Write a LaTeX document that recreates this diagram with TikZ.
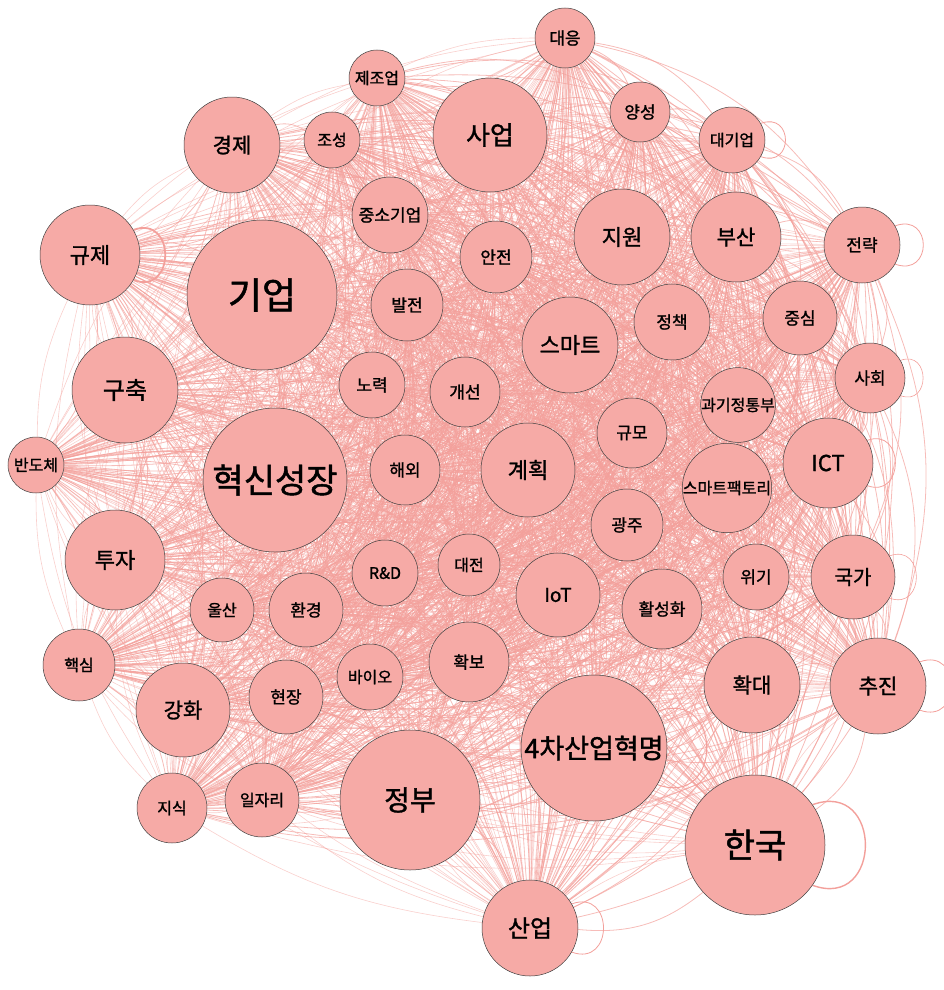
\documentclass[tikz,border=0pt]{standalone}
\usepackage{fontspec}
\newfontfamily\kr[FakeBold=1.3]{Noto Sans CJK KR}
\pgfdeclarelayer{bg}
\pgfsetlayers{bg,main}
\definecolor{nodefill}{RGB}{246,170,166}
\definecolor{edgecol}{RGB}{243,160,155}
\begin{document}
\begin{tikzpicture}[x=1pt,y=-1pt,
  nd/.style={circle,draw=black!75,line width=0.5pt,fill=nodefill,inner sep=0pt,text=black},
  edge/.style={draw=edgecol,line width=0.8pt,opacity=0.7},
  edgeb/.style={draw=edgecol,line width=0.6pt,opacity=0.5},
  selfloop/.style={draw=edgecol,line width=1.4pt}]
\useasboundingbox (0,0) rectangle (943,990);
\def\nodelist{daeung/565/38/30/17/대응,
jejo/377/78/28/16/제조업,
saeop/490/135/57/26/사업,
yangseong/640/112/30/17/양성,
daegieop/732/140/33/16/대기업,
gyeongje/232/145/48/21/경제,
joseong/332/140/28/16/조성,
jungso/390/215/38/17/중소기업,
jiwon/622/237/48/22/지원,
busan/736/237/45/21/부산,
jeollyak/862/245/38/17/전략,
gyuje/90/255/50/22/규제,
gieop/262/295/75/37/기업,
anjeon/496/257/36/17/안전,
baljeon/407/305/36/17/발전,
jeongchaek/672/322/38/17/정책,
jungsim/800/318/37/17/중심,
smart/570/345/48/22/스마트,
guchuk/125/390/53/24/구축,
noryeok/372/385/33/17/노력,
gaeseon/465/392/35/17/개선,
sahoe/870/378/35/17/사회,
gwagi/738/405/32/16/과기정통부,
gyumo/632/433/35/17/규모,
bando/36/465/28/16/반도체,
hyeoksin/275/480/72/34/혁신성장,
haeoe/405/470/35/17/해외,
gyehoek/528/470/47/22/계획,
ict/828/463/45/22/ICT,
smartf/727/488/33/16/스마트팩토리,
gwangju/627/525/36/17/광주,
tuja/115/560/50/22/투자,
rnd/385/573/33/16/R\&D,
daejeon/469/565/31/16/대전,
iot/558/595/42/19/IoT,
wigi/756/577/33/17/위기,
gukga/853/577/42/20/국가,
ulsan/222/610/32/16/울산,
hwangyeong/306/610/37/17/환경,
hwalseong/662/609/40/17/활성화,
haeksim/79/665/36/16/핵심,
bio/370/677/33/16/바이오,
hwakbo/469/662/40/17/확보,
hwakdae/752/685/48/21/확대,
chujin/878/686/48/21/추진,
ganghwa/183/710/47/21/강화,
hyeonjang/286/697/37/17/현장,
sacha/594/748/73/27/4차산업혁명,
jisik/172/808/35/16/지식,
iljari/262/800/37/16/일자리,
jeongbu/410/800/70/28/정부,
hanguk/755/845/70/34/한국,
saneop/530/928/48/24/산업}
\foreach \n/\x/\y/\r/\fs/\t in \nodelist {
  \node[nd,minimum size=2*\r pt,font=\kr\fontsize{\fs}{\fs}\selectfont] (\n) at (\x,\y) {\t};
}
\begin{pgfonlayer}{bg}
\foreach \a/\xa/\ya/\ra/\fa/\ta [count=\i] in \nodelist {
  \foreach \b/\xb/\yb/\rb/\fb/\tb [count=\j] in \nodelist {
    \ifnum\j>\i
      \draw[edge] (\a) to[bend left=22] (\b);
      \draw[edgeb] (\a) to[bend right=12] (\b);
    \fi
  }
}
\draw[selfloop] (hanguk.35) to[out=20,in=-20,distance=75pt] (hanguk.-35);
\draw[selfloop,line width=1pt] (sacha.30) to[out=20,in=-20,distance=70pt] (sacha.-30);
\draw[selfloop,line width=0.8pt] (chujin.30) to[out=20,in=-20,distance=45pt] (chujin.-30);
\draw[selfloop,line width=0.8pt] (jeollyak.30) to[out=20,in=-20,distance=40pt] (jeollyak.-30);
\draw[selfloop,line width=0.8pt] (daegieop.30) to[out=20,in=-20,distance=35pt] (daegieop.-30);
\draw[selfloop,line width=1.8pt] (gyuje.30) to[out=20,in=-20,distance=45pt] (gyuje.-30);
\draw[selfloop,line width=0.8pt] (saneop.30) to[out=20,in=-20,distance=45pt] (saneop.-30);
\draw[selfloop,line width=0.8pt] (ict.30) to[out=20,in=-20,distance=40pt] (ict.-30);
\draw[selfloop,line width=0.6pt] (gukga.30) to[out=20,in=-20,distance=38pt] (gukga.-30);
\draw[selfloop,line width=0.6pt] (sahoe.30) to[out=20,in=-20,distance=32pt] (sahoe.-30);
\end{pgfonlayer}
\end{tikzpicture}
\end{document}
